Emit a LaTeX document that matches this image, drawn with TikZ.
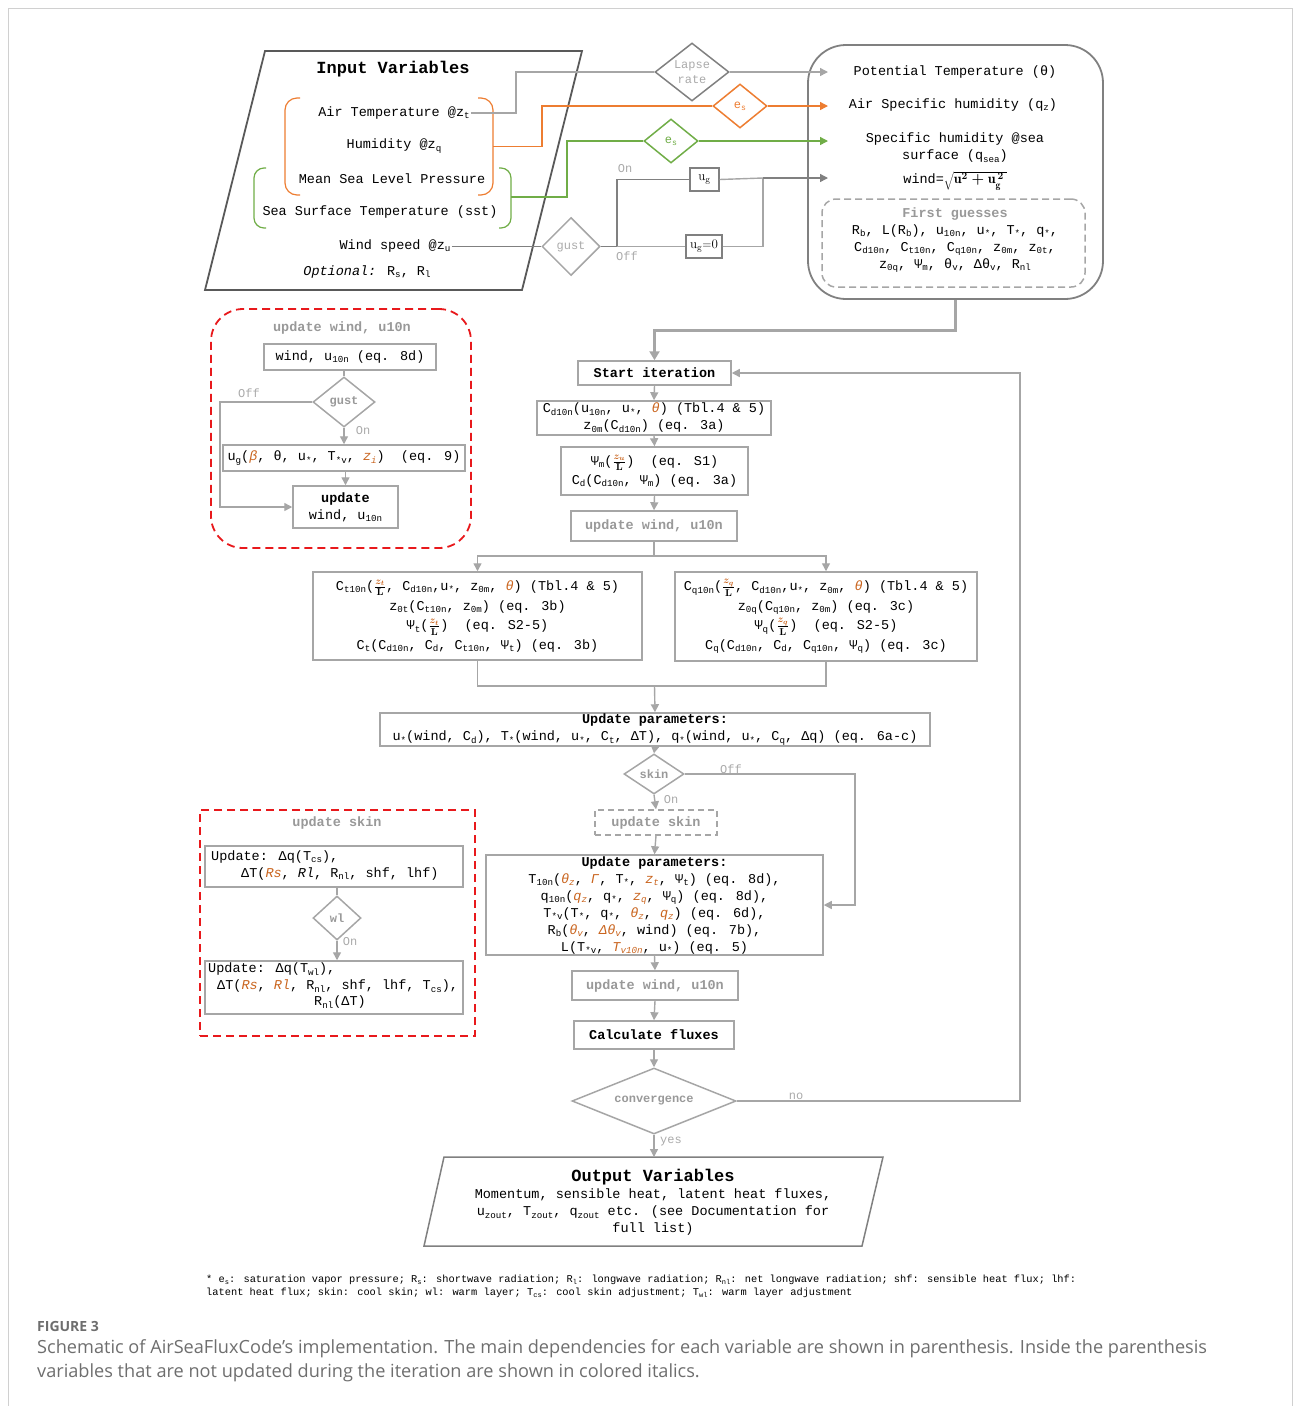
\documentclass[tikz,border=0pt]{standalone}
\usepackage{fontspec}
\usepackage{graphicx}
\usetikzlibrary{arrows.meta,shapes.geometric,calc}
\newfontfamily\mono{Liberation Mono}
\newfontfamily\capfont{Open Sans}
\newcommand\fsz[2]{\fontsize{#1}{#2}\selectfont}
\newcommand\sbs[1]{\raisebox{-0.35ex}{\scalebox{0.68}{#1}}}
\definecolor{lg}{HTML}{A6A6A6}
\definecolor{mg}{HTML}{808080}
\definecolor{dg}{HTML}{595959}
\definecolor{orl}{HTML}{ED7D31}
\definecolor{oric}{HTML}{C9641E}
\definecolor{grn}{HTML}{70AD47}
\definecolor{tg}{HTML}{999999}
\definecolor{lblc}{HTML}{AAAAAA}
\definecolor{capg}{HTML}{6E6E6E}
\definecolor{redc}{HTML}{E8191C}
\definecolor{framec}{HTML}{D0D0D0}
\newcommand\ori[1]{\textcolor{oric}{\textit{#1}}}
\newcommand\zfr[1]{{\fsz{14.5}{15}\boldmath$\frac{\textcolor{oric}{#1}}{\mathbf{L}}$}}
\tikzset{
  lw/.style={line width=1.4pt},
  arr/.style={-{Triangle[length=8pt,width=8pt]}},
  bx/.style={draw=lg, line width=1.5pt, inner sep=0pt, align=center, font=\mono\fsz{13.5}{17}},
  tx/.style={inner sep=1pt, align=center, font=\mono\fsz{13.5}{17}},
  big/.style={inner sep=1pt, align=center, font=\mono\fsz{17}{20}\bfseries},
  dia/.style={diamond, draw=lg, line width=1.5pt, inner sep=0pt},
  dl/.style={inner sep=0pt, font=\mono\fsz{12}{14}\bfseries, text=tg},
  lbl/.style={inner sep=0pt, font=\mono\fsz{12}{14}, text=lblc},
  conn/.style={draw=lg, line width=1.4pt},
}
\begin{document}
\begin{tikzpicture}[x=1pt,y=-1pt]
\useasboundingbox (0,0) rectangle (1293,1406);
\draw[framec, line width=1pt] (8,8) rectangle (1292,1406);

% ---------- Input variables ----------
\draw[dg, line width=1.8pt] (265,51) -- (582,51) -- (522,290) -- (205,290) -- cycle;
\node[big] (inT) at (393,69) {Input Variables};
\node[tx] (airT) at (394,113) {Air Temperature @z\sbs{t}};
\node[tx] (hum) at (394,146) {Humidity @z\sbs{q}};
\node[tx] (mslp) at (392,179) {Mean Sea Level Pressure};
\node[tx] (sst) at (380,212) {Sea Surface Temperature (sst)};
\node[tx] (windz) at (395,246) {Wind speed @z\sbs{u}};
\node[tx] (opt) at (367,272) {\textit{Optional:} R\sbs{s}, R\sbs{l}};
\draw[orl, line width=1.2pt, rounded corners=12pt] (300,98) -- (285,98) -- (285,195) -- (300,195);
\draw[orl, line width=1.2pt, rounded corners=12pt] (478,98) -- (493,98) -- (493,195) -- (478,195);
\draw[grn, line width=1.2pt, rounded corners=10pt] (266,168) -- (254,168) -- (254,228) -- (266,228);
\draw[grn, line width=1.2pt, rounded corners=10pt] (499,168) -- (511,168) -- (511,228) -- (499,228);
\coordinate (oBr) at (493,146.5);
\coordinate (gBr) at (511,197);

% ---------- diamonds top ----------
\node[dia, draw=mg, minimum width=74pt, minimum height=58pt] (lapse) at (692,72) {};
\node[lbl, align=center, font=\mono\fsz{12}{15}] (lapseT) at (lapse) {Lapse\\rate};
\node[dia, draw=orl, minimum width=54pt, minimum height=44pt] (esO) at (740,106) {};
\node[inner sep=0pt, text=orl, font=\mono\fsz{12}{14}] (esOt) at (esO) {e\sbs{s}};
\node[dia, draw=grn, minimum width=54pt, minimum height=44pt] (esG) at (671,141) {};
\node[inner sep=0pt, text=grn, font=\mono\fsz{12}{14}] (esGt) at (esG) {e\sbs{s}};
\node[dia, minimum width=58pt, minimum height=58pt] (gust) at (571,246.5) {};
\node[lbl] (gustT) at (gust) {gust};
\node[draw=mg, line width=1.3pt, minimum width=29pt, minimum height=23pt, inner sep=0pt, font=\fsz{13}{15}] (ug) at (704.5,179.5) {$\mathrm{u_g}$};
\node[draw=mg, line width=1.3pt, minimum width=36pt, minimum height=23pt, inner sep=0pt, font=\fsz{13}{15}] (ug0) at (704,246.5) {$\mathrm{u_g{=}0}$};
\coordinate (a1) at (828,72);
\coordinate (a2) at (828,106);
\coordinate (a3) at (828,141);
\coordinate (a4) at (828,178);
\coordinate (j1) at (617,246.5);
\coordinate (j2) at (763,178);
\node[lbl] (onT) at (625,169) {On};
\node[lbl] (offT) at (627,256) {Off};

% ---------- right box ----------
\node[draw=mg, line width=1.8pt, rounded corners=38pt, minimum width=295pt, minimum height=254pt, inner sep=0pt] (rbox) at (955.5,172) {};
\node[tx] (pt) at (955,72) {Potential Temperature (θ)};
\node[tx] (asq) at (953,105) {Air Specific humidity (q\sbs{z})};
\node[tx] (shs) at (955,148) {Specific humidity @sea\\surface (q\sbs{sea})};
\node[tx] (wnd) at (955,181) {wind={\fsz{14}{16}\boldmath$\sqrt{\mathrm{u}^{2}+\mathrm{u}_{\mathrm{g}}^{\,2}\,}$}};
\node[draw=lg, line width=1.5pt, dash pattern=on 7pt off 4pt, rounded corners=14pt, minimum width=263pt, minimum height=88pt, inner sep=0pt] (fg) at (953.5,243) {};
\node[tx] (fgT) at (955,240) {\textcolor{tg}{\textbf{First guesses}}\\R\sbs{b}, L(R\sbs{b}), u\sbs{10n}, u\sbs{*}, T\sbs{*}, q\sbs{*},\\C\sbs{d10n}, C\sbs{t10n}, C\sbs{q10n}, z\sbs{0m}, z\sbs{0t},\\z\sbs{0q}, Ψ\sbs{m}, θ\sbs{v}, Δθ\sbs{v}, R\sbs{nl}};

% ---------- top connectors ----------
\draw[lg, line width=1.4pt] (airT.east) -| (516,72) -- (lapse.west);
\draw[lg, line width=1.4pt, arr] (lapse.east) -- (a1);
\draw[orl, line width=1.4pt] (oBr) -| (542,106) -- (esO.west);
\draw[orl, line width=1.4pt, arr] (esO.east) -- (a2);
\draw[grn, line width=1.4pt] (gBr) -| (567,141) -- (esG.west);
\draw[grn, line width=1.4pt, arr] (esG.east) -- (a3);
\draw[mg, line width=1.4pt] (gust.west -| windz.east) -- (gust.west);
\draw[mg, line width=1.4pt] (gust.east) -- (j1) |- (ug.west);
\draw[lg, line width=1.4pt] (j1) -- (ug0.west);
\draw[lg, line width=1.4pt] (ug.east) -- (j2);
\draw[lg, line width=1.4pt] (ug0.east) -| (j2);
\draw[mg, line width=1.4pt, arr] (j2) -- (a4);

% ---------- main column ----------
\node[bx, minimum width=153pt, minimum height=24pt] (start) at (654.5,373) {\textbf{Start iteration}};
\draw[lg, line width=3pt, -{Triangle[length=9pt,width=10pt]}] (rbox.south) -- ++(0,31) -| (start.north);
\node[bx, minimum width=234pt, minimum height=34pt] (cd) at (654,418) {C\sbs{d10n}(u\sbs{10n}, u\sbs{*}, \ori{θ}) (Tbl.4 \& 5)\\z\sbs{0m}(C\sbs{d10n}) (eq. 3a)};
\node[bx, minimum width=187pt, minimum height=48pt, font=\mono\fsz{13.5}{19}] (psi) at (654.5,471) {Ψ\sbs{m}(\zfr{z_u})\ \ (eq. S1)\\C\sbs{d}(C\sbs{d10n}, Ψ\sbs{m}) (eq. 3a)};
\node[bx, minimum width=166pt, minimum height=30pt, text=tg, font=\mono\fsz{13.5}{17}\bfseries] (uw1) at (654,526) {update wind, u10n};
\node[bx, minimum width=329pt, minimum height=88pt, font=\mono\fsz{13.5}{19.6}] (ct) at (477.5,616) {C\sbs{t10n}(\zfr{z_t}, C\sbs{d10n},u\sbs{*}, z\sbs{0m}, \ori{θ}) (Tbl.4 \& 5)\\z\sbs{0t}(C\sbs{t10n}, z\sbs{0m}) (eq. 3b)\\Ψ\sbs{t}(\zfr{z_t})\ \ (eq. S2-5)\\C\sbs{t}(C\sbs{d10n}, C\sbs{d}, C\sbs{t10n}, Ψ\sbs{t}) (eq. 3b)};
\node[bx, minimum width=302pt, minimum height=89pt, font=\mono\fsz{13.5}{19.6}] (cq) at (826,616.5) {C\sbs{q10n}(\zfr{z_q}, C\sbs{d10n},u\sbs{*}, z\sbs{0m}, \ori{θ}) (Tbl.4 \& 5)\\z\sbs{0q}(C\sbs{q10n}, z\sbs{0m}) (eq. 3c)\\Ψ\sbs{q}(\zfr{z_q})\ \ (eq. S2-5)\\C\sbs{q}(C\sbs{d10n}, C\sbs{d}, C\sbs{q10n}, Ψ\sbs{q}) (eq. 3c)};
\node[bx, minimum width=550pt, minimum height=33pt] (up1) at (655,729.5) {\textbf{Update parameters:}\\u\sbs{*}(wind, C\sbs{d}), T\sbs{*}(wind, u\sbs{*}, C\sbs{t}, ΔT), q\sbs{*}(wind, u\sbs{*}, C\sbs{q}, Δq) (eq. 6a-c)};
\node[dia, minimum width=60pt, minimum height=40pt] (skin) at (654,774) {};
\node[dl] (skinT) at (skin) {skin};
\node[bx, draw=lg, dash pattern=on 6pt off 4pt, minimum width=122pt, minimum height=25pt, text=tg, font=\mono\fsz{13.5}{17}\bfseries] (uskin) at (656,822.5) {update skin};
\node[bx, minimum width=337pt, minimum height=100pt] (up2) at (654.5,905) {\textbf{Update parameters:}\\T\sbs{10n}(\ori{θ\sbs{z}}, \ori{Γ}, T\sbs{*}, \ori{z\sbs{t}}, Ψ\sbs{t}) (eq. 8d),\\q\sbs{10n}(\ori{q\sbs{z}}, q\sbs{*}, \ori{z\sbs{q}}, Ψ\sbs{q}) (eq. 8d),\\T\sbs{*v}(T\sbs{*}, q\sbs{*}, \ori{θ\sbs{z}}, \ori{q\sbs{z}}) (eq. 6d),\\R\sbs{b}(\ori{θ\sbs{v}}, \ori{Δθ\sbs{v}}, wind) (eq. 7b),\\L(T\sbs{*v}, \ori{T\sbs{v10n}}, u\sbs{*}) (eq. 5)};
\node[bx, minimum width=166pt, minimum height=29pt, text=tg, font=\mono\fsz{13.5}{17}\bfseries] (uw2) at (655,985.5) {update wind, u10n};
\node[bx, minimum width=160pt, minimum height=28pt, font=\mono\fsz{13.5}{17}\bfseries] (calc) at (654,1035) {Calculate fluxes};
\node[dia, minimum width=164pt, minimum height=66pt] (conv) at (654,1101) {};
\node[dl] (convT) at (conv) {convergence};
\draw[mg, line width=1.5pt] (444,1157) -- (883,1157) -- (862,1246) -- (424,1246) -- cycle;
\coordinate (outtop) at (654,1157);
\node[big] (outT) at (653,1177) {Output Variables};
\node[tx] (outB) at (653,1212) {Momentum, sensible heat, latent heat fluxes,\\u\sbs{zout}, T\sbs{zout}, q\sbs{zout} etc. (see Documentation for\\full list)};

% main connectors
\draw[lg, line width=1.4pt, arr] (start.south) -- (cd.north);
\draw[lg, line width=1.4pt, arr] (cd.south) -- (psi.north);
\draw[lg, line width=1.4pt, arr] (psi.south) -- (uw1.north);
\coordinate (sp) at (654,556);
\draw[lg, line width=1.4pt] (uw1.south) -- (sp);
\draw[lg, line width=1.4pt, arr] (sp) -| (ct.north);
\draw[lg, line width=1.4pt, arr] (sp) -| (cq.north);
\coordinate (jn) at (654.5,686);
\draw[lg, line width=1.4pt] (ct.south) -- (477.5,686) -- (826,686) -- (cq.south);
\draw[lg, line width=1.4pt, arr] (jn) -- (up1.north);
\draw[lg, line width=1.4pt, -{Triangle[length=7pt,width=8pt]}] (up1.south) -- (skin.north);
\draw[lg, line width=1.4pt, arr] (skin.south) -- (uskin.north);
\node[lbl] (skOn) at (671,800) {On};
\draw[lg, line width=1.4pt, arr] (skin.east) -- (855,774) |- (up2.east);
\node[lbl] (skOff) at (731,769) {Off};
\draw[lg, line width=1.4pt, arr] (uskin.south) -- (up2.north);
\draw[lg, line width=1.4pt, arr] (up2.south) -- (uw2.north);
\draw[lg, line width=1.4pt, arr] (uw2.south) -- (calc.north);
\draw[lg, line width=1.4pt, arr] (calc.south) -- (conv.north);
\draw[lg, line width=1.4pt, arr] (conv.south) -- (outtop);
\node[lbl, anchor=west] (yesT) at (660,1142) {yes};
\draw[lg, line width=1.4pt, arr] (conv.east) -- (1020,1101) |- (start.east);
\node[lbl] (noT) at (796,1096) {no};

% ---------- left red box: update wind ----------
\node[draw=redc, line width=1.8pt, dash pattern=on 8pt off 5pt, rounded corners=32pt, minimum width=260pt, minimum height=239pt, inner sep=0pt] (rw) at (341,428.5) {};
\node[tx, text=tg, font=\mono\fsz{13.5}{17}\bfseries] (rwT) at (342,328) {update wind, u10n};
\node[bx, minimum width=172pt, minimum height=26pt] (wb) at (350,357) {wind, u\sbs{10n} (eq. 8d)};
\node[dia, minimum width=62pt, minimum height=50pt] (g2) at (344,402) {};
\node[dl] (g2T) at (g2) {gust};
\node[bx, minimum width=242pt, minimum height=26pt] (ugL) at (344,458) {u\sbs{g}(\ori{β}, θ, u\sbs{*}, T\sbs{*v}, \ori{z\sbs{i}})\ \ (eq. 9)};
\node[bx, minimum width=105pt, minimum height=42pt] (upd) at (345.5,507) {\textbf{update}\\wind, u\sbs{10n}};
\draw[lg, line width=1.4pt] (wb.south -| g2.north) -- (g2.north);
\draw[lg, line width=1.4pt, arr] (g2.south) -- (ugL.north);
\draw[lg, line width=1.4pt, arr] (g2.west) -- (220,402) |- (upd.west);
\draw[lg, line width=1.4pt, arr] (ugL.south -| upd.north) -- (upd.north);
\node[lbl] (g2On) at (363,431) {On};
\node[lbl] (g2Off) at (249,393) {Off};

% ---------- left red box: update skin ----------
\node[draw=redc, line width=1.8pt, dash pattern=on 8pt off 5pt, minimum width=275pt, minimum height=226pt, inner sep=0pt] (rs) at (337.5,923) {};
\node[tx, text=tg, font=\mono\fsz{13.5}{17}\bfseries] (rsT) at (337,823) {update skin};
\node[bx, minimum width=258pt, minimum height=41pt] (s1) at (334,866.5) {};
\node[tx, anchor=west] (s1a) at (210,857) {Update: Δq(T\sbs{cs}),};
\node[tx, anchor=west] (s1b) at (240,874) {ΔT(\ori{Rs}, \textit{Rl}, R\sbs{nl}, shf, lhf)};
\node[dia, minimum width=48pt, minimum height=44pt] (wl) at (337,918) {};
\node[dl] (wlT) at (wl) {wl};
\node[bx, minimum width=258pt, minimum height=53pt] (s2) at (334,987.5) {};
\node[tx, anchor=west] (s2a) at (207,969) {Update: Δq(T\sbs{wl}),};
\node[tx, anchor=west] (s2b) at (216,986) {ΔT(\ori{Rs}, \ori{Rl}, R\sbs{nl}, shf, lhf, T\sbs{cs}),};
\node[tx, anchor=west] (s2c) at (313,1002) {R\sbs{nl}(ΔT)};
\draw[lg, line width=1.4pt] (s1.south -| wl.north) -- (wl.north);
\draw[lg, line width=1.4pt, arr] (wl.south) -- (wl.south |- s2.north);
\node[lbl] (wlOn) at (350,942) {On};

% ---------- footnote and caption ----------
\node[anchor=west, inner sep=0pt, font=\mono\fsz{10.35}{12}] (fn1) at (206,1280) {* e\sbs{s}: saturation vapor pressure; R\sbs{s}: shortwave radiation; R\sbs{l}: longwave radiation; R\sbs{nl}: net longwave radiation; shf: sensible heat flux; lhf:};
\node[anchor=west, inner sep=0pt, font=\mono\fsz{10.35}{12}] (fn2) at (206,1293) {latent heat flux; skin: cool skin; wl: warm layer; T\sbs{cs}: cool skin adjustment; T\sbs{wl}: warm layer adjustment};
\node[anchor=west, inner sep=0pt, text=capg, font=\capfont\fsz{14}{16}\bfseries] (figno) at (37,1326) {FIGURE 3};
\node[anchor=west, inner sep=0pt, text=capg, font=\capfont\fsz{18.15}{20}] (cap1) at (37,1349) {Schematic of AirSeaFluxCode’s implementation. The main dependencies for each variable are shown in parenthesis. Inside the parenthesis};
\node[anchor=west, inner sep=0pt, text=capg, font=\capfont\fsz{18.15}{20}] (cap2) at (37,1373) {variables that are not updated during the iteration are shown in colored italics.};
\end{tikzpicture}
\end{document}
